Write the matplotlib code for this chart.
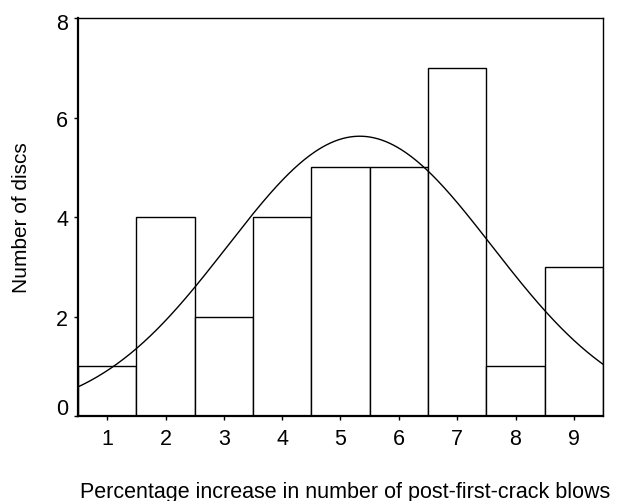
import numpy as np
import matplotlib
matplotlib.use("Agg")
import matplotlib.pyplot as plt
from matplotlib.transforms import ScaledTranslation

plt.rcParams['font.family'] = ['Liberation Sans', 'DejaVu Sans']

categories = [1, 2, 3, 4, 5, 6, 7, 8, 9]
counts = [1, 4, 2, 4, 5, 5, 7, 1, 3]
y_ticks = [0, 2, 4, 6, 8]
fit_mean = 5.33
fit_sd = 2.27
fit_n = 32

W, H = 618, 502
fig = plt.figure(figsize=(W/100, H/100), dpi=100)
ax = fig.add_axes([78/W, 1-417/H, (603-78)/W, (417-19)/H])

ax.bar(categories, counts, width=1.0, facecolor='white', edgecolor='black', linewidth=1.0)

xs = np.linspace(0.5, 9.5, 400)
ys = fit_n * 1.0 / (fit_sd * np.sqrt(2*np.pi)) * np.exp(-0.5*((xs-fit_mean)/fit_sd)**2)
ax.plot(xs, ys, color='black', linewidth=1.0)

ax.set_xlim(0.5, 9.5)
ax.set_ylim(0, 8)
ax.set_xticks(categories)
ax.set_yticks(y_ticks)
ax.tick_params(axis='both', direction='out', length=3, width=1, labelsize=15.5)
ax.tick_params(axis='x', pad=5.5)
ax.tick_params(axis='y', pad=4)
for s in ax.spines.values():
    s.set_linewidth(1.0)
ax.spines['left'].set_linewidth(1.6)
ax.spines['bottom'].set_linewidth(1.6)

# nudge end labels on y axis as in the reference
fig.canvas.draw()
ylabels = ax.get_yticklabels()
ylabels[0].set_transform(ylabels[0].get_transform() + ScaledTranslation(0, 10/100, fig.dpi_scale_trans))
ylabels[-1].set_transform(ylabels[-1].get_transform() + ScaledTranslation(0, -2.5/100, fig.dpi_scale_trans))

fig.text(22/W, 1-218/H, 'Number of discs', rotation=90, ha='center', va='center', fontsize=15)
fig.text(345/W, 1-493/H, 'Percentage increase in number of post-first-crack blows',
         ha='center', va='center', fontsize=15.5)

fig.savefig('out.png', dpi=100)
